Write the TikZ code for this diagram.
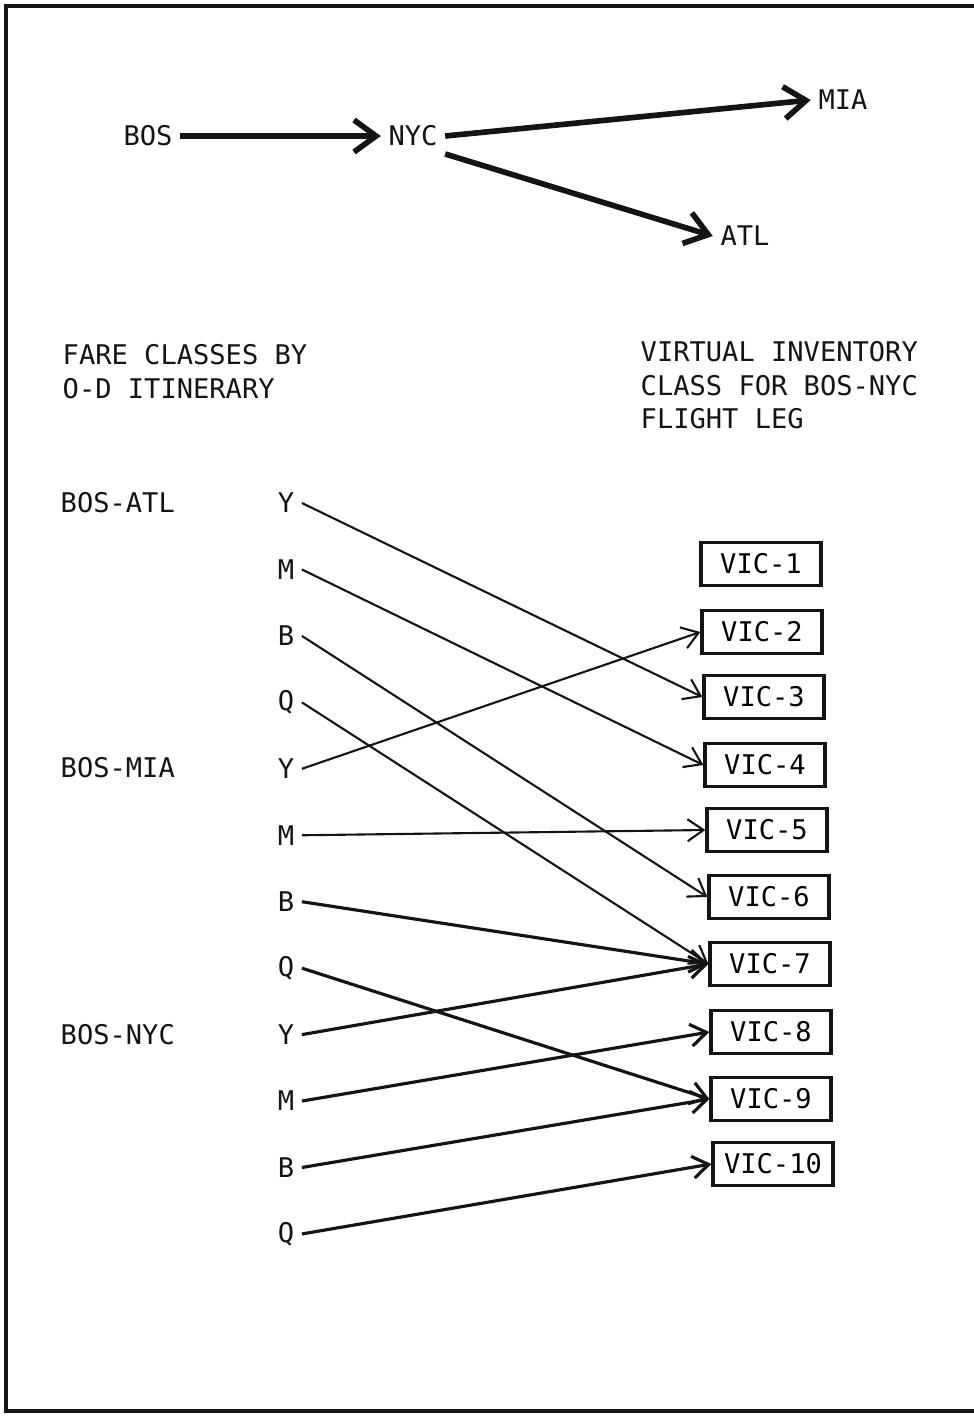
\documentclass[tikz,border=0pt]{standalone}
\usepackage{fontspec}
\setmonofont{DejaVu Sans Mono}
\usetikzlibrary{arrows.meta, positioning}
\usepackage{xcolor}
\definecolor{cInk}{RGB}{20, 20, 20}

\begin{document}
\begin{tikzpicture}[
    x=0.01cm, y=-0.01cm,
    font=\ttfamily\fontsize{7.7}{9.5}\selectfont,
    >={Straight Barb[length=1.6mm, width=2.2mm]},
    city/.style={inner sep=2pt, text=cInk},
    route/.style={-{Straight Barb[length=2.2mm, width=3.2mm]}, line width=1.6pt, color=cInk},
    heading/.style={align=left, anchor=north west, inner sep=0pt, text=cInk},
    fare/.style={inner sep=2pt, text=cInk},
    vic/.style={
        draw=cInk,
        line width=0.9pt,
        minimum width=1.2cm,
        minimum height=0.43cm,
        inner sep=0pt
    },
    link/.style={->, line width=0.6pt, color=cInk},
    heavy/.style={link, line width=0.9pt}
]

\useasboundingbox (0,0) rectangle (974,1417);

% Page frame
\draw[line width=1.3pt, color=cInk] (974,6) -- (6,6) -- (6,1411) -- (974,1411);

% Route map
\node[city] (bos) at (148,136) {BOS};
\node[city] (nyc) at (413,136) {NYC};
\node[city] (mia) at (843,100) {MIA};
\node[city] (atl) at (745,236) {ATL};

\draw[route] (bos) -- (nyc);
\draw[route] (nyc.east) -- (mia.west);
\draw[route] (nyc.south east) -- (atl.west);

% Headings
\node[heading] (hfare) at (62,344) {FARE CLASSES BY\\O-D ITINERARY};
\node[heading] (hvic) at (640,341) {VIRTUAL INVENTORY\\CLASS FOR BOS-NYC\\FLIGHT LEG};

% O-D itineraries and their fare classes
\foreach \od/\txt/\y in {atl/BOS-ATL/503, mia/BOS-MIA/768, nyc/BOS-NYC/1035} {
    \node[fare, anchor=west, inner sep=0pt] (\od) at (60,\y) {\txt};
}
\foreach \od [count=\g from 0] in {atl, mia, nyc} {
    \foreach \c [count=\k from 0] in {Y, M, B, Q} {
        \node[fare] (\od\c) at (286, {503 + 66.45*(4*\g+\k)}) {\c};
    }
}

% Virtual inventory classes
\foreach \i/\x/\y in {1/761/564, 2/762/632, 3/764/697, 4/765/765, 5/767/830,
                      6/769/897, 7/770/964, 8/771/1032, 9/771/1099, 10/773/1164} {
    \node[vic] (vic\i) at (\x,\y) {VIC-\i};
}

% Mapping
\draw[link] (atlY.east) -- (vic3.west);
\draw[link] (atlM.east) -- (vic4.west);
\draw[link] (atlB.east) -- (vic6.west);
\draw[link] (atlQ.east) -- (vic7.west);
\draw[link] (miaY.east) -- (vic2.west);
\draw[link] (miaM.east) -- (vic5.west);
\draw[heavy] (miaB.east) -- (vic7.west);
\draw[heavy] (miaQ.east) -- (vic9.west);
\draw[heavy] (nycY.east) -- (vic7.west);
\draw[heavy] (nycM.east) -- (vic8.west);
\draw[heavy] (nycB.east) -- (vic9.west);
\draw[heavy] (nycQ.east) -- (vic10.west);

\end{tikzpicture}
\end{document}
